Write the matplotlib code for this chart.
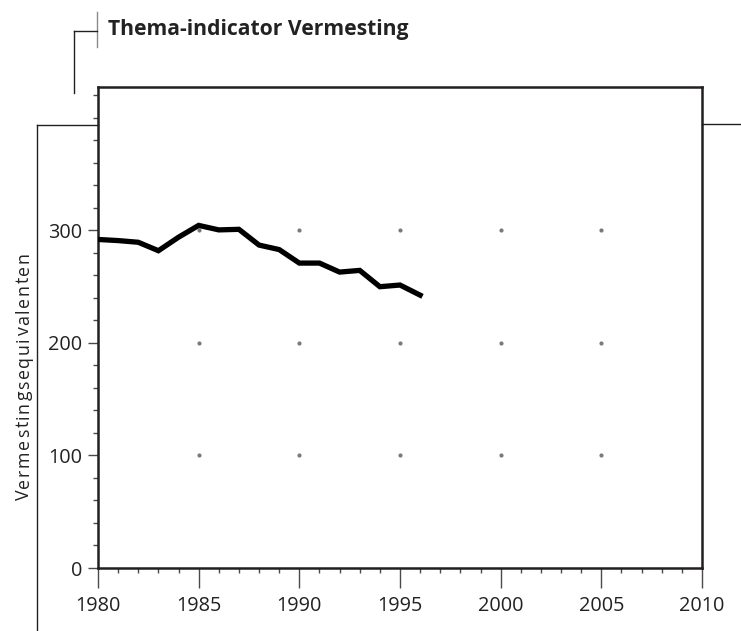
import matplotlib
matplotlib.use("Agg")
import matplotlib.pyplot as plt
from matplotlib.lines import Line2D
from matplotlib.ticker import MultipleLocator
from matplotlib.textpath import TextPath
from matplotlib.font_manager import FontProperties

plt.rcParams['font.family'] = ['Open Sans', 'DejaVu Sans']

# data
years = [1980, 1981, 1982, 1983, 1984, 1985, 1986, 1987, 1988,
         1989, 1990, 1991, 1992, 1993, 1994, 1995, 1996]
vermesting = [292, 291, 289.5, 282, 294, 304.5, 300.5, 301, 287,
              283, 271, 271, 263, 264.5, 250, 251.5, 242.5]

dot_years = [1985, 1990, 1995, 2000, 2005]
dot_levels = [100, 200, 300]

title = "Thema-indicator Vermesting"
ylabel = "Vermestingsequivalenten"

W, H = 741, 631
fig = plt.figure(figsize=(W / 100, H / 100), dpi=100)
ax = fig.add_axes([98 / W, 1 - 568 / H, (702 - 98) / W, (568 - 87) / H])

dark = "#231f20"
tickc = "#4a4a4a"

# grey dot grid
for yv in dot_levels:
    ax.plot(dot_years, [yv] * len(dot_years), ls="none", marker="o",
            ms=3, color="#7a7a7a", mec="none", zorder=1)

ax.plot(years, vermesting, color="black", lw=3.8, solid_joinstyle="miter",
        zorder=3)

ax.set_xlim(1980, 2010)
ax.set_ylim(0, 427.5)
ax.xaxis.set_major_locator(MultipleLocator(5))
ax.xaxis.set_minor_locator(MultipleLocator(1))
ax.yaxis.set_minor_locator(MultipleLocator(20))
ax.set_yticks([0, 100, 200, 300])

for s in ax.spines.values():
    s.set_color(dark)
    s.set_linewidth(1.8)

ax.tick_params(axis="x", which="major", direction="out", length=14.5, width=1.0,
               color=tickc, pad=6, labelsize=14.3, labelcolor="#222")
ax.tick_params(axis="x", which="minor", direction="out", length=3.5, width=1.0,
               color=tickc)
ax.tick_params(axis="y", which="major", direction="out", length=7.5, width=1.0,
               color=tickc, pad=4, labelsize=14.3, labelcolor="#222")
ax.tick_params(axis="y", which="minor", direction="out", length=3.5, width=1.0,
               color=tickc)

# letter-spaced y label: place each glyph along the rotated baseline
fp = FontProperties(family="Open Sans", size=12.8)
pt2px = 100 / 72.0
bar = TextPath((0, 0), "|", prop=fp).get_extents().x1
offs = [(TextPath((0, 0), ylabel[:i] + "|", prop=fp).get_extents().x1 - bar) * pt2px
        if i else 0.0 for i in range(len(ylabel) + 1)]
span = 248.0
gap = (span - offs[-1]) / (len(ylabel) - 1)
ystart = 376 + span / 2
for i, ch in enumerate(ylabel):
    yy = ystart - offs[i] - gap * i
    fig.text(29 / W, 1 - yy / H, ch, rotation=90, rotation_mode="anchor",
             ha="left", va="baseline", fontproperties=fp, color="#222")

fig.text(108 / W, 1 - 35 / H, title, ha="left", va="baseline",
         fontsize=15.2, fontweight="bold", color="#222")


def seg(x0, y0, x1, y1, c=dark, lw=1.0):
    fig.add_artist(Line2D([x0 / W, x1 / W], [1 - y0 / H, 1 - y1 / H],
                          color=c, lw=lw, transform=fig.transFigure))


# decorative frame lines
seg(97, 12, 97, 47, c="#8a8a8a")
seg(74, 31, 97, 31)
seg(74, 31, 74, 93)
seg(37, 125, 98, 125)
seg(37, 125, 37, 631)
seg(702, 124, 741, 124)

fig.savefig("out.png", dpi=100)
